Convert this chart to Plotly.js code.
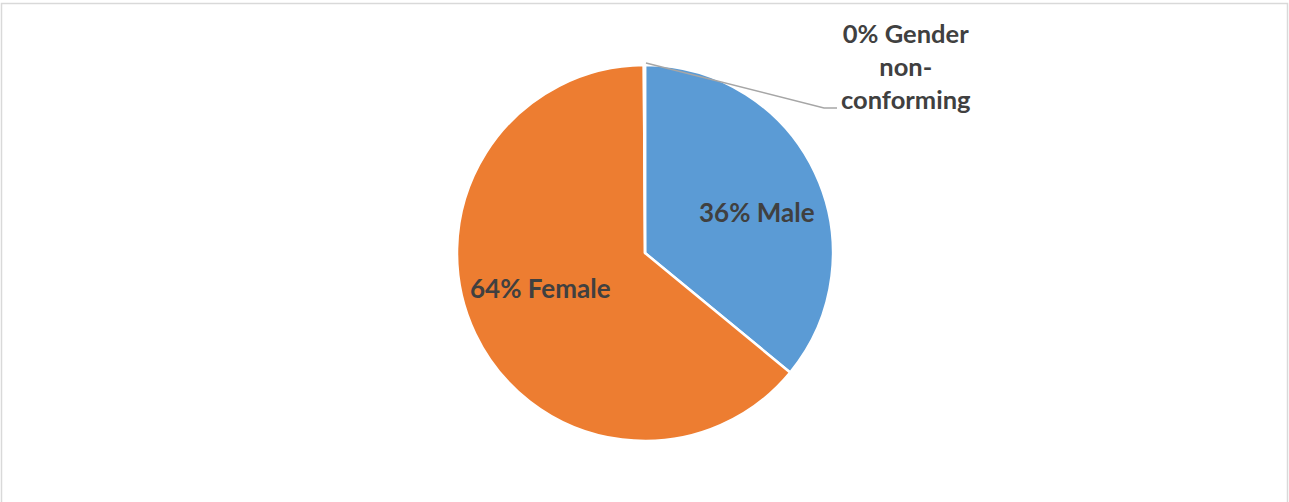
<!DOCTYPE html>
<html>
<head>
<meta charset="utf-8">
<script src="https://cdn.plot.ly/plotly-3.0.1.min.js"></script>
<style>html,body{margin:0;padding:0;background:#fff;}#chart{width:1289px;height:502px;}</style>
</head>
<body>
<div id="chart"></div>
<script>
const categories = ['Male', 'Female', 'Gender non-conforming'];
const values = [36, 64, 0.1];
const colors = ['#5B9BD5', '#ED7D31', '#A5A5A5'];
const labelLines = ['Male', 'Female', 'Gender<br>non-<br>conforming'];

const W = 1289, H = 502;
const px = x => x / W;
const py = y => 1 - y / H;
const total = values.reduce((a, b) => a + b, 0);
const pct = i => Math.round(values[i] / total * 100) + '%';
const FONT = 'Lato, "Open Sans", sans-serif';

const trace = {
  type: 'pie',
  labels: categories,
  values: values,
  sort: false,
  direction: 'clockwise',
  rotation: 0,
  marker: {colors: colors, line: {color: '#ffffff', width: 2.5}},
  textinfo: 'none',
  hoverinfo: 'label+percent',
  showlegend: false,
  domain: {x: [px(645 - 188), px(645 + 188)], y: [py(441), py(65)]}
};

const labelPos = [[757, 212], [540, 288], [906, 66]];
const annotations = labelPos.map((p, i) => ({
  xref: 'paper', yref: 'paper', x: px(p[0]), y: py(p[1]), xanchor: 'center', yanchor: 'middle',
  text: '<b>' + pct(i) + ' ' + labelLines[i] + '</b>',
  showarrow: false, align: 'center',
  font: {family: FONT, size: i === 2 ? 25.5 : 26, color: '#404040'}
}));

const layout = {
  width: W, height: H,
  margin: {l: 0, r: 0, t: 0, b: 0},
  paper_bgcolor: '#ffffff',
  showlegend: false,
  shapes: [
    {type: 'rect', xref: 'paper', yref: 'paper', x0: px(1.5), x1: px(1287.5), y0: py(520), y1: py(3.5),
     line: {color: '#d9d9d9', width: 1.5}, fillcolor: 'rgba(0,0,0,0)'},
    {type: 'path', xref: 'paper', yref: 'paper',
     path: 'M ' + px(646) + ' ' + py(63) + ' L ' + px(824) + ' ' + py(108) + ' L ' + px(837) + ' ' + py(108),
     line: {color: '#a6a6a6', width: 1.5}}
  ],
  annotations: annotations
};

Plotly.newPlot('chart', [trace], layout, {displayModeBar: false, staticPlot: true});
</script>
</body>
</html>
